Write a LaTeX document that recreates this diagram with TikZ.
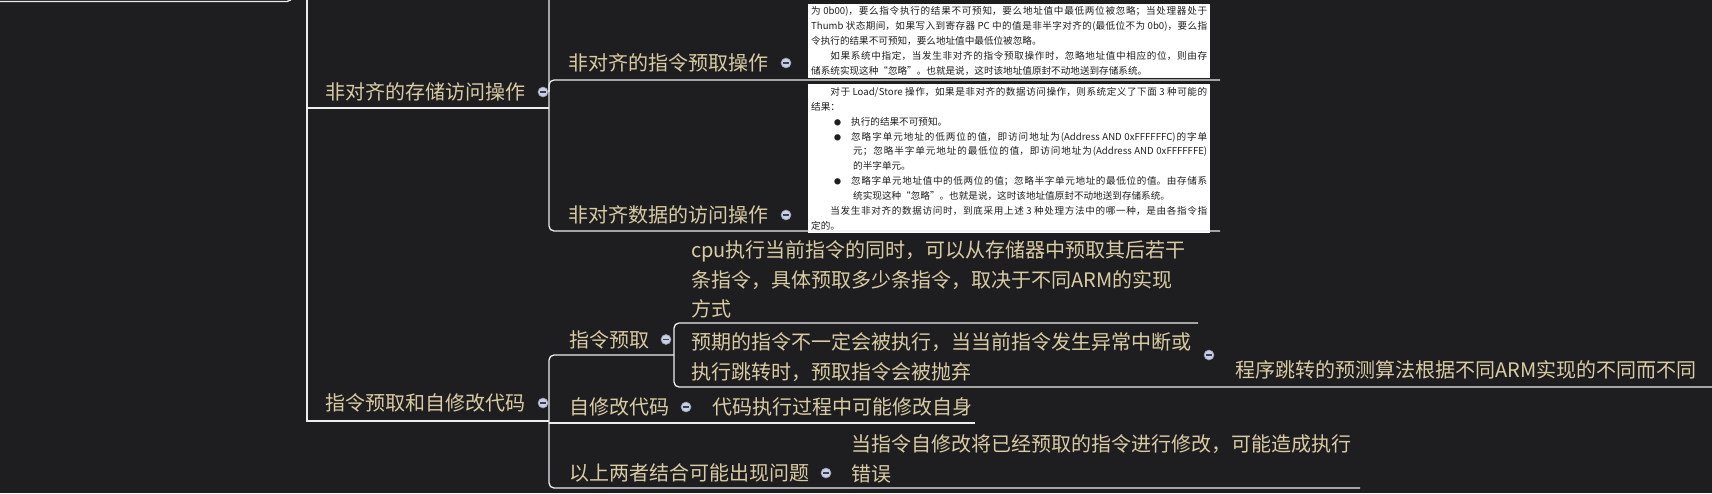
\documentclass[tikz,border=0pt]{standalone}
\usepackage{fontspec}
\setmainfont{Noto Sans CJK SC}
\definecolor{canvas}   {HTML}{1E1E21}
\definecolor{topictxt} {HTML}{D9CBA3}
\definecolor{branch}   {HTML}{EDEDED}
\definecolor{knobfill} {HTML}{C9CEE2}
\definecolor{knobedge} {HTML}{8E95B0}
\definecolor{knobbar}  {HTML}{3C3F52}
\newcommand\zhbreak{\XeTeXlinebreaklocale "zh"\XeTeXlinebreakskip=0pt plus 2pt\relax
  \tolerance=9999\relax}
\newcommand\dotitem{\hspace*{23pt}{\fontsize{7}{7}\selectfont●}\hspace{10pt}}
\tikzset{
  % --- nodes
  topic/.style = {inner sep=0pt, anchor=west, align=left, text=topictxt,
                  font=\fontsize{20}{29.5}\selectfont},
  shot/.style  = {fill=white, inner sep=3pt, text width=396pt, align=justify,
                  text=black!88, font=\fontsize{9.6}{14.9}\selectfont\zhbreak},
  knob/.style  = {circle, draw=knobedge, fill=knobfill, line width=0.6pt,
                  minimum size=10pt, inner sep=0pt,
                  path picture={\draw[knobbar, line width=1.2pt]
                    ([xshift=-2.6pt]path picture bounding box.center) --
                    ([xshift=2.6pt]path picture bounding box.center);}},
  % --- edges
  br/.style    = {draw=branch, line width=1.3pt},
  brr/.style   = {br, rounded corners=5pt},
}
\begin{document}
\begin{tikzpicture}[x=1pt,y=-1pt]
  \path[use as bounding box, fill=canvas] (0,0) rectangle (1712,493);

  % topics
  \node[topic] (mem)  at (325,92)  {非对齐的存储访问操作};
  \node[topic] (ifet) at (568,63)  {非对齐的指令预取操作};
  \node[topic] (dacc) at (568,215) {非对齐数据的访问操作};
  \node[topic] (mix)  at (325,403) {指令预取和自修改代码};
  \node[topic] (pref) at (569,339.5) {指令预取};
  \node[topic] (cpu)  at (691,279.5) {cpu执行当前指令的同时，可以从存储器中预取其后若干\\条指令，具体预取多少条指令，取决于不同ARM的实现\\方式};
  \node[topic] (drop) at (691,357) {预期的指令不一定会被执行，当当前指令发生异常中断或\\执行跳转时，预取指令会被抛弃};
  \node[topic] (jump) at (1235,370) {程序跳转的预测算法根据不同ARM实现的不同而不同};
  \node[topic] (smc)  at (569,407) {自修改代码};
  \node[topic] (smcn) at (712,407) {代码执行过程中可能修改自身};
  \node[topic] (both) at (569,473) {以上两者结合可能出现问题};
  \node[topic] (err)  at (851,459) {当指令自修改将已经预取的指令进行修改，可能造成执行\\错误};

  % pasted pages
  \node[shot, anchor=south west] (ifetpic) at (808,78.5) {%
    为 0b00)，要么指令执行的结果不可预知，要么地址值中最低两位被忽略；当处理器处于\linebreak
    Thumb 状态期间，如果写入到寄存器 PC 中的值是非半字对齐的(最低位不为 0b0)，要么指\linebreak
    令执行的结果不可预知，要么地址值中最低位被忽略。\\
    \hspace*{2em}如果系统中指定，当发生非对齐的指令预取操作时，忽略地址值中相应的位，则由存\linebreak
    储系统实现这种“忽略”。也就是说，这时该地址值原封不动地送到存储系统。};
  \node[shot, anchor=north west] (daccpic) at (808,84) {%
    \hspace*{2em}对于 Load/Store 操作，如果是非对齐的数据访问操作，则系统定义了下面 3 种可能的\linebreak
    结果：\\
    \dotitem 执行的结果不可预知。\\
    \dotitem 忽略字单元地址的低两位的值，即访问地址为(Address AND 0xFFFFFFC)的字单\linebreak
    \hspace*{42pt}元；忽略半字单元地址的最低位的值，即访问地址为(Address AND 0xFFFFFFE)\linebreak
    \hspace*{42pt}的半字单元。\\
    \dotitem 忽略字单元地址值中的低两位的值；忽略半字单元地址的最低位的值。由存储系\linebreak
    \hspace*{42pt}统实现这种“忽略”。也就是说，这时该地址值原封不动地送到存储系统。\\
    \hspace*{2em}当发生非对齐的数据访问时，到底采用上述 3 种处理方法中的哪一种，是由各指令指\linebreak
    定的。};

  % fold knobs
  \node[knob] (memk)  at (543,92)  {};
  \node[knob] (ifetk) at (786,63)  {};
  \node[knob] (dacck) at (786,215) {};
  \node[knob] (mixk)  at (543,403) {};
  \node[knob] (prefk) at (666,339.5) {};
  \node[knob] (dropk) at (1209,355) {};
  \node[knob] (smck)  at (686,407) {};
  \node[knob] (bothk) at (826,473) {};

  % branch lines
  \coordinate (prevL) at (0,1.5);   \coordinate (prevU) at (292,-10);
  \coordinate (rootU) at (307,-10); \coordinate (subU)  at (549,-10);
  \coordinate (edgeA) at (1220,80); \coordinate (edgeB) at (1220,231);
  \coordinate (edgeC) at (1712,387);
  \draw[brr] (prevL) -- (292,1.5) -- (prevU);
  \draw[br]  (rootU) -- (307,421) -- (549,421);
  \draw[br]  (307,108) -- (549,108);
  \draw[brr] (subU) -- (549,231) -- (edgeB);
  \draw[brr] (549,92) -- (549,80) -- (edgeA);
  \draw[brr] (1360,488) -- (549,488) -- (549,355) -- (674,355);
  \draw[brr] (1198,323) -- (674,323) -- (674,387) -- (edgeC);
  \draw[br]  (549,423) -- (975,423);
\end{tikzpicture}
\end{document}
